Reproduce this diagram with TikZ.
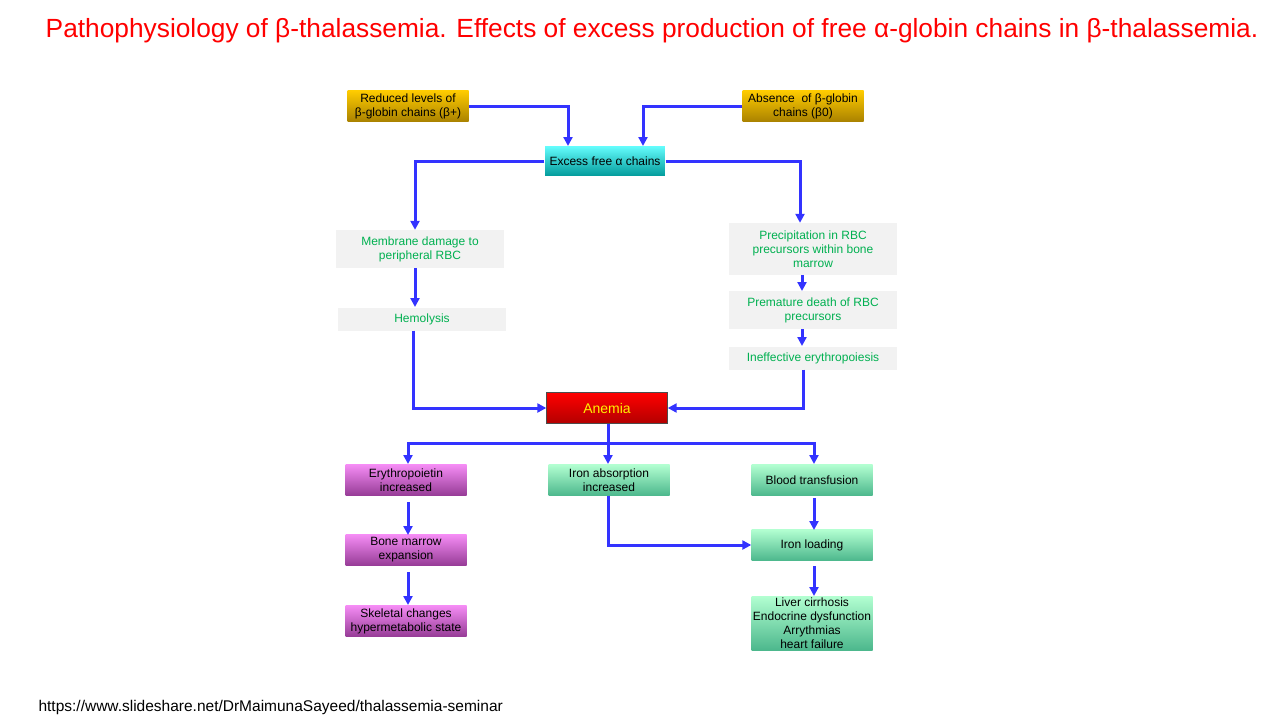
\documentclass[tikz,border=0pt]{standalone}
\usepackage{fontspec}
\setmainfont{Liberation Sans}
\usetikzlibrary{arrows.meta}
\definecolor{arr}{RGB}{51,51,255}
\definecolor{gtxt}{RGB}{0,176,80}
\definecolor{goldtop}{RGB}{255,204,0}
\definecolor{goldbot}{RGB}{170,130,0}
\definecolor{magtop}{RGB}{245,140,245}
\definecolor{magbot}{RGB}{150,60,150}
\tikzset{
 box/.style={minimum width=121pt,minimum height=31pt,inner sep=1pt,align=center,font=\fontsize{12}{14}\selectfont},
 gold/.style={box,top color=goldtop,bottom color=goldbot},
 cyanb/.style={box,top color=cyan!60,bottom color=cyan!60!black,draw=white},
 pale/.style={box,fill=gray!10,text=gtxt,minimum width=168pt},
 redb/.style={box,top color=red,bottom color=red!70!black,draw=gray!60!black,text=yellow,font=\fontsize{14}{16}\selectfont},
 mag/.style={box,top color=magtop,bottom color=magbot},
 grn/.style={box,top color=green!60!cyan!30,bottom color=green!40!cyan!60!black!70},
 con/.style={draw=arr,line width=3pt,-{Triangle[length=9pt,width=9pt]}}
}
\begin{document}
\begin{tikzpicture}[x=1pt,y=-1pt]
\useasboundingbox (0,0) rectangle (1280,720);
\node[text=red,font=\fontsize{26.3}{30}\selectfont] (title) at (652,31) {Pathophysiology of β-thalassemia. Effects of excess production of free α-globin chains in β-thalassemia.};
\node[font=\fontsize{15.5}{18}\selectfont,anchor=west] (src) at (35,707) {https://www.slideshare.net/DrMaimunaSayeed/thalassemia-seminar};
\node[gold] (r1) at (408,106) {Reduced levels of\\β-globin chains (β+)};
\node[gold] (r2) at (803,106) {Absence\ \ of β-globin\\chains (β0)};
\node[cyanb] (ex) at (605,161) {Excess free α chains};
\node[pale,minimum height=38pt] (mem) at (420,249) {Membrane damage to\\peripheral RBC};
\node[pale,minimum height=23pt] (hem) at (422,319) {Hemolysis};
\node[pale,minimum height=52pt] (pre) at (813,249) {Precipitation in RBC\\precursors within bone\\marrow};
\node[pale,minimum height=38pt] (pd) at (813,310) {Premature death of RBC\\precursors};
\node[pale,minimum height=23pt] (ie) at (813,358) {Ineffective erythropoiesis};
\node[redb] (an) at (607,408) {Anemia};
\node[mag] (ep) at (406,480) {Erythropoietin\\increased};
\node[grn] (ia) at (609,480) {Iron absorption\\increased};
\node[grn] (bt) at (812,480) {Blood transfusion};
\node[mag] (bm) at (406,550) {Bone marrow\\expansion};
\node[mag] (sk) at (406,621) {Skeletal changes\\hypermetabolic state};
\node[grn] (il) at (812,545) {Iron loading};
\node[grn,minimum height=54pt] (lc) at (812,623) {Liver cirrhosis\\Endocrine dysfunction\\Arrythmias\\heart failure};
\draw[con] (r1.east) -| (568,146);
\draw[con] (r2.west) -| (643,146);
\draw[con] (ex.west) -| (mem.north -| 415,0);
\draw[con] (ex.east) -| (pre.north -| 800,0);
\draw[con] (415,268) -- (415,307);
\draw[con] (hem.south -| 413,0) |- (an.west);
\draw[con] (802,275) -- (802,291);
\draw[con] (802,329) -- (802,346);
\draw[con] (ie.south -| 803,0) |- (an.east);
\draw[con] (an.south -| 608,0) -- (608,464);
\draw[con] (608,443) -| (408,464);
\draw[con] (608,443) -| (814,464);
\draw[con] (408,502) -- (408,535);
\draw[con] (408,572) -- (408,605);
\draw[con] (814,498) -- (814,530);
\draw[con] (814,566) -- (814,596);
\draw[con] (ia.south -| 608,0) |- (il.west);
\end{tikzpicture}
\end{document}
